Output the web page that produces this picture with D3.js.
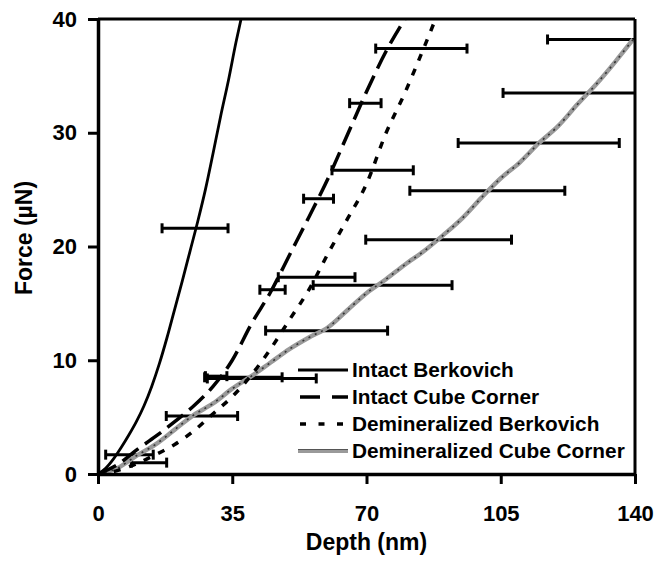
<!DOCTYPE html>
<html>
<head>
<meta charset="utf-8">
<script src="https://cdn.jsdelivr.net/npm/d3@7"></script>
<style>
  html, body { margin: 0; padding: 0; background: #fff; }
  svg { display: block; }
  text { font-family: "Liberation Sans", Arial, sans-serif; font-weight: bold; fill: #000; }
</style>
</head>
<body>
<svg id="chart" width="657" height="561"></svg>
<script>
// ---------------- DATA ----------------
const depthTicks = [0, 35, 70, 105, 140];
const forceTicks = [0, 10, 20, 30, 40];
const xTitle = "Depth (nm)";
const yTitle = "Force (\u00B5N)";
const seriesNames = ["Intact Berkovich", "Intact Cube Corner", "Demineralized Berkovich", "Demineralized Cube Corner"];

// [depth (nm), force (uN)]
const intactBerkovich = [[0,0],[2,0.5],[4,1.3],[6,2.3],[8,3.4],[10,4.6],[12,6],[14,7.7],[16,9.7],[18,12],[20,14.5],[22,17],[24,19.6],[26,22.2],[28,25],[30,28.2],[32,31.5],[34,34.6],[36,38],[37.3,40]];
const intactCubeCorner = [[0,0],[5,0.8],[10,2.1],[15,3.3],[20,4.6],[25,6],[30,7.7],[35,10],[40,13.2],[45,16],[50,19.3],[55,22.6],[60,26],[65,29.8],[70,33.6],[75,37.1],[80,40]];
const demBerkovich = [[0,0],[5,0.3],[10,0.9],[15,1.7],[20,2.6],[25,3.8],[30,5.3],[35,6.8],[40,8.7],[45,11],[50,13.6],[55,16.2],[60,19.4],[65,22.4],[70,25.5],[75,29.9],[80,33.5],[85,37.5],[88,40]];
const demCubeCorner = [[0,0],[5,0.5],[10,1.6],[15,2.6],[20,3.9],[25,5.2],[30,6.2],[35,7.5],[40,8.6],[45,9.8],[50,11],[55,12],[60,12.9],[65,14.4],[70,15.9],[75,17.1],[80,18.4],[85,19.6],[90,21],[95,22.5],[100,24.3],[105,26],[110,27.4],[115,29.1],[120,30.6],[125,32.5],[130,34.3],[135,36.3],[139.5,38.2]];

// error bars: [centre depth, force, half width]
const errIntactBerkovich = [[25.3,21.6,8.6],[8.2,1.7,6.2]];
const errIntactCubeCorner = [[69.7,32.6,4.1],[57.5,24.2,3.9],[45.5,16.2,3.3],[30.8,8.6,2.8]];
const errDemBerkovich = [[84.3,37.4,11.9],[71.6,26.7,10.6],[57,17.3,10],[37.9,8.5,10.1]];
const errDemCubeCorner = [[139.5,38.2,22.3],[127.4,33.5,21.8],[114.9,29.1,21],[101.5,24.9,20.2],[88.8,20.6,19],[74.2,16.6,18.1],[59.6,12.6,15.9],[42.7,8.4,14.2],[27.1,5.1,9.3],[13.3,1.0,4.6]];

// ---------------- LAYOUT ----------------
const svg = d3.select("#chart");
const L = 98, T = 19, W = 537, H = 455;
const x = d3.scaleLinear().domain([0, 140]).range([L, L + W]);
const y = d3.scaleLinear().domain([0, 40]).range([T + H, T]);

svg.append("defs").append("clipPath").attr("id", "plotclip")
  .append("rect").attr("x", L).attr("y", T - 2).attr("width", W).attr("height", H + 2);

const plot = svg.append("g").attr("clip-path", "url(#plotclip)");
const line = d3.line().x(d => x(d[0])).y(d => y(d[1])).curve(d3.curveMonotoneX);

// error bars
function drawErr(arr) {
  const g = plot.append("g").attr("stroke", "#000").attr("stroke-width", 3).attr("fill", "none");
  arr.forEach(e => {
    const x1 = x(e[0] - e[2]), x2 = x(e[0] + e[2]), yy = y(e[1]);
    g.append("line").attr("x1", x1).attr("x2", x2).attr("y1", yy).attr("y2", yy);
    g.append("line").attr("x1", x1).attr("x2", x1).attr("y1", yy - 5).attr("y2", yy + 5);
    g.append("line").attr("x1", x2).attr("x2", x2).attr("y1", yy - 5).attr("y2", yy + 5);
  });
}
drawErr(errIntactBerkovich);
drawErr(errIntactCubeCorner);
drawErr(errDemBerkovich);
drawErr(errDemCubeCorner);

// series
plot.append("path").datum(demCubeCorner).attr("d", line)
  .attr("fill", "none").attr("stroke", "#9a9a9a").attr("stroke-width", 4.5);
plot.append("path").datum(demCubeCorner).attr("d", line)
  .attr("fill", "none").attr("stroke", "#333").attr("stroke-width", 1.6).attr("stroke-dasharray", "2,5");
plot.append("path").datum(demBerkovich).attr("d", line)
  .attr("fill", "none").attr("stroke", "#000").attr("stroke-width", 3.5).attr("stroke-dasharray", "7,9");
plot.append("path").datum(intactCubeCorner).attr("d", line)
  .attr("fill", "none").attr("stroke", "#000").attr("stroke-width", 3.5).attr("stroke-dasharray", "20,8");
plot.append("path").datum(intactBerkovich).attr("d", line)
  .attr("fill", "none").attr("stroke", "#000").attr("stroke-width", 2.8);

// frame top and right
svg.append("line").attr("x1", L).attr("x2", L + W).attr("y1", T).attr("y2", T).attr("stroke", "#000").attr("stroke-width", 3);
svg.append("line").attr("x1", L + W).attr("x2", L + W).attr("y1", T).attr("y2", T + H).attr("stroke", "#000").attr("stroke-width", 3);

// axes
const xAxis = svg.append("g").attr("transform", `translate(0,${T + H})`)
  .call(d3.axisBottom(x).tickValues(depthTicks).tickSize(10).tickSizeOuter(0).tickPadding(21).tickFormat(d3.format("d")));
const yAxis = svg.append("g").attr("transform", `translate(${L},0)`)
  .call(d3.axisLeft(y).tickValues(forceTicks).tickSize(10).tickSizeOuter(0).tickPadding(11).tickFormat(d3.format("d")));
[xAxis, yAxis].forEach(a => {
  a.select(".domain").attr("stroke", "#000").attr("stroke-width", 3.5);
  a.selectAll(".tick line").attr("stroke", "#000").attr("stroke-width", 3);
  a.selectAll(".tick text").attr("font-size", 22).attr("font-family", "Liberation Sans, Arial, sans-serif").attr("font-weight", "bold");
});

// titles
svg.append("text").attr("x", L + W / 2).attr("y", 550).attr("text-anchor", "middle")
  .attr("font-size", 23).text(xTitle);
svg.append("text").attr("transform", "translate(32,238) rotate(-90)").attr("text-anchor", "middle")
  .attr("font-size", 23).text(yTitle);

// legend
const legY = [370, 397, 424, 451];
const leg = svg.append("g");
seriesNames.forEach((name, i) => {
  const yy = legY[i];
  if (i === 3) {
    leg.append("line").attr("x1", 298).attr("x2", 348).attr("y1", yy).attr("y2", yy).attr("stroke", "#9a9a9a").attr("stroke-width", 4);
    leg.append("line").attr("x1", 298).attr("x2", 348).attr("y1", yy - 1.5).attr("y2", yy - 1.5).attr("stroke", "#555").attr("stroke-width", 1);
  } else {
    const ln = leg.append("line").attr("x1", i === 0 ? 298 : 300).attr("x2", 348).attr("y1", yy).attr("y2", yy)
      .attr("stroke", "#000").attr("stroke-width", i === 0 ? 2.8 : 3.5);
    if (i === 1) ln.attr("stroke-dasharray", "20,12");
    if (i === 2) ln.attr("stroke-dasharray", "6,12.5");
  }
  leg.append("text").attr("x", 352).attr("y", yy).attr("dy", "0.36em").attr("font-size", 20.8).text(name);
});
</script>
</body>
</html>
